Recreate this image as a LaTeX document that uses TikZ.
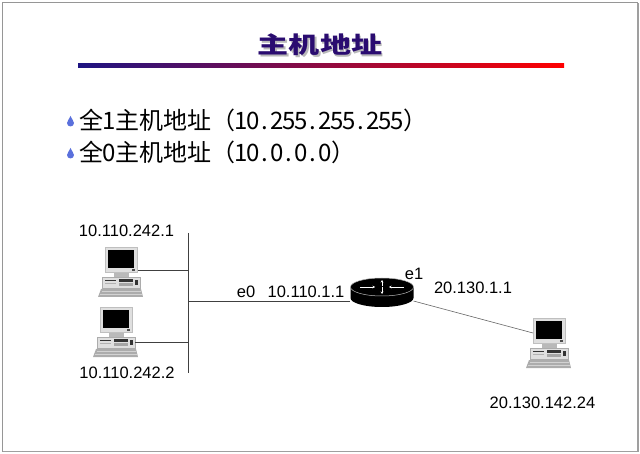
\documentclass[tikz,border=0pt]{standalone}
\usepackage{fontspec}
\setmainfont{Liberation Sans}
\newfontfamily\cjk{Noto Sans CJK SC}
\newfontfamily\cjktitle{Noto Sans CJK SC}
\usetikzlibrary{arrows.meta}
\makeatletter
\newcommand\hwtext[1]{\@tfor\hw@c:=#1\do{\ifx\hw@c.\makebox[0.5em][l]{.}\else\makebox[0.5em]{\hw@c}\fi}}
\makeatother
\definecolor{titleblue}{RGB}{42,12,112}
\definecolor{dropblue}{RGB}{90,112,220}
\definecolor{lineblue}{RGB}{30,20,130}
\definecolor{framegray}{RGB}{150,150,150}
\tikzset{
  lbl/.style={inner sep=0pt, font=\fontsize{16.5}{18}\selectfont},
  bul/.style={anchor=west, inner sep=0pt, font=\cjk\fontsize{24}{28}\selectfont},
  wire/.style={draw=black!75, line width=0.8pt},
  thinwire/.style={draw=black!60, line width=0.6pt},
  pics/computer/.style={code={
    \fill[gray!50] (0,0) rectangle (33,26);
    \fill[gray!25] (0.8,0.8) rectangle (31.5,25);
    \fill[black] (3,3) rectangle (29,21);
    \fill[black!70] (27,22.5) rectangle (30,24.5);
    \fill[gray!55] (9,26) rectangle (24,30);
    \fill[gray!25] (-3,30) rectangle (35,41);
    \draw[gray!65, line width=0.4pt] (-3,30) rectangle (35,41);
    \fill[black!80] (0,33) rectangle (11,34.5);
    \fill[gray!60] (0,36.5) rectangle (11,37.5);
    \fill[black!80] (14,32) rectangle (28,35);
    \fill[gray!70] (14,36) rectangle (28,39);
    \fill[black!80] (30,33) rectangle (33,38);
    \fill[gray!65] (-4,42) -- (36,42) -- (38,50) -- (-7,50) -- cycle;
    \draw[gray!35, line width=0.4pt] (-3.5,44.5) -- (35.5,44.5) (-5,47) -- (37,47);
    \coordinate (-mon) at (33,23);
    \coordinate (-unit) at (35,35);
    \coordinate (-left) at (0,15);
  }},
  pics/router/.style={code={
    \fill[black] (-31.5,0) -- (-31.5,11) arc[start angle=180, end angle=0, x radius=31.5, y radius=9] -- (31.5,0) -- cycle;
    \fill[black] (0,0) ellipse[x radius=31.5, y radius=9];
    \draw[gray!55, line width=0.5pt] (0,0) ellipse[x radius=31.5, y radius=9];
    \draw[white, line width=0.7pt, -{Stealth[length=2.5pt,width=2.5pt]}] (-22,0) -- (-7,0);
    \draw[white, line width=0.7pt, -{Stealth[length=2.5pt,width=2.5pt]}] (22,0) -- (7,0);
    \draw[white, line width=0.7pt, -{Stealth[length=2.5pt,width=2.5pt]}] (0,-0.5) -- (0,-7);
    \draw[white, line width=0.7pt, -{Stealth[length=2.5pt,width=2.5pt]}] (0,0.5) -- (0,7);
    \coordinate (-w) at (-32,14);
    \coordinate (-e) at (31.5,14);
  }},
  pics/drop/.style={code={
    \fill[dropblue] (0,0) .. controls (1,3) and (3.5,5) .. (3.5,7)
      arc[start angle=0, end angle=180, radius=3.5]
      .. controls (-3.5,5) and (-1,3) .. (0,0) -- cycle;
  }}
}
\begin{document}
\begin{tikzpicture}[x=1pt, y=-1pt]
\useasboundingbox (0,0) rectangle (640,454);
% frame
\draw[framegray, line width=1pt] (2.5,2.5) rectangle (637.5,451);
\draw[gray!75, line width=1.6pt] (3,451.5) -- (638,451.5) -- (638,3);
% title
\node[font=\cjktitle\bfseries\fontsize{23}{26}\selectfont, text=gray!55, inner sep=0pt] (titleshadow) at (321.8,46.8) {\scalebox{1.35}[1]{主机地址}};
\node[font=\cjktitle\bfseries\fontsize{23}{26}\selectfont, text=titleblue, inner sep=0pt] (title) at (320,45) {\scalebox{1.35}[1]{主机地址}};
\shade[left color=lineblue, right color=red] (78,64) rectangle (564,68);
% bullets
\pic (d1) at (70.5,116) {drop};
\pic (d2) at (70.5,148) {drop};
\node[bul] (b1) at (79,120) {全\hwtext{1}主机地址（\hwtext{10.255.255.255}）};
\node[bul] (b2) at (79,152) {全\hwtext{0}主机地址（\hwtext{10.0.0.0}）};
% devices
\pic (pc1) at (105,247) {computer};
\pic (pc2) at (100,307) {computer};
\pic (pc3) at (533,318) {computer};
\pic (r) at (382,287) {router};
% bus and wires
\coordinate (bt) at (188,233);
\coordinate (bb) at (188,373);
\draw[wire] (bt) -- (bb);
\draw[wire] (pc1-mon) -- (pc1-mon -| bt);
\draw[wire] (pc2-unit) -- (pc2-unit -| bt);
\draw[wire] (r-w) -- (r-w -| bt);
\draw[thinwire] (r-e) -- (pc3-left);
% labels
\node[lbl] (l1) at (126.5,231) {10.110.242.1};
\node[lbl] (l2) at (127,373) {10.110.242.2};
\node[lbl] (l3) at (542.5,403) {20.130.142.24};
\node[lbl] (le0) at (246,292) {e0};
\node[lbl] (lip0) at (306,292) {10.110.1.1};
\node[lbl] (le1) at (414,274) {e1};
\node[lbl] (lip1) at (473,288) {20.130.1.1};
\end{tikzpicture}
\end{document}
